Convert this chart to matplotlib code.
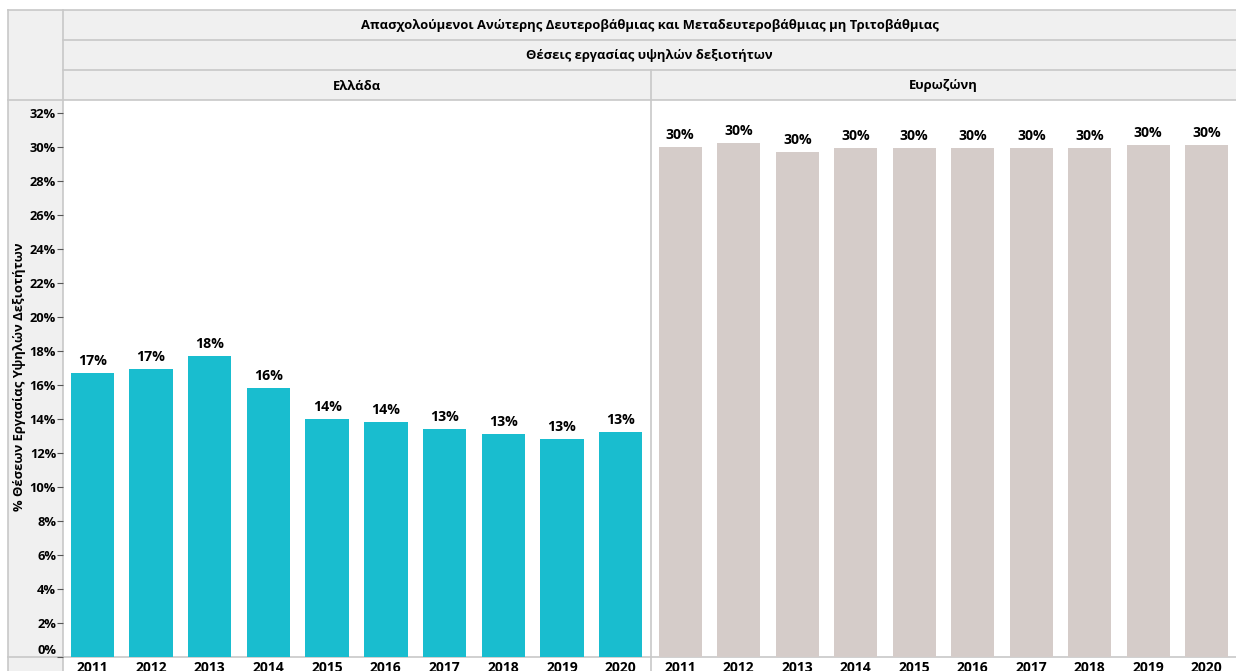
import matplotlib
matplotlib.use('Agg')
import matplotlib.pyplot as plt
from matplotlib.patches import Rectangle
from matplotlib.lines import Line2D

plt.rcParams['font.family'] = ['Open Sans', 'DejaVu Sans']

# --- δεδομένα ---
years = [2011, 2012, 2013, 2014, 2015, 2016, 2017, 2018, 2019, 2020]
greece = [16.7, 16.9, 17.7, 15.8, 14.0, 13.8, 13.4, 13.1, 12.8, 13.2]
eurozone = [30.0, 30.2, 29.7, 29.9, 29.9, 29.9, 29.9, 29.9, 30.1, 30.1]
yticks = list(range(0, 33, 2))

title1 = 'Απασχολούμενοι Ανώτερης Δευτεροβάθμιας και Μεταδευτεροβάθμιας μη Τριτοβάθμιας'
title2 = 'Θέσεις εργασίας υψηλών δεξιοτήτων'
panels = ['Ελλάδα', 'Ευρωζώνη']
ylabel = '% Θέσεων Εργασίας Υψηλών Δεξιοτήτων'

W, H = 1236, 671
HDR_BG = '#f0f0f0'
LINE = '#c8c8c8'
FS_HDR = 9.4
FS_TICK = 9.3
FS_VAL = 10.2
FS_YEAR = 10.0

fig = plt.figure(figsize=(W / 100, H / 100), dpi=100)

# φόντο σε pixel συντεταγμένες (κεφαλίδες, γραμμές πλαισίου)
bg = fig.add_axes([0, 0, 1, 1], zorder=0)
bg.set_xlim(0, W)
bg.set_ylim(H, 0)
bg.axis('off')

bg.add_patch(Rectangle((63, 10), W - 63, 90, color=HDR_BG, lw=0))
bg.add_patch(Rectangle((8, 10), 55, H - 10, color=HDR_BG, lw=0))
for y in [10, 40, 70, 100]:
    x0 = 8 if y in (10, 100) else 63
    bg.add_line(Line2D([x0, W], [y, y], color=LINE, lw=1.2))
bg.add_line(Line2D([8, W], [657, 657], color=LINE, lw=1.2))
bg.add_line(Line2D([8, 8], [10, H], color=LINE, lw=1.2))
bg.add_line(Line2D([63, 63], [10, H], color=LINE, lw=1.2))
bg.add_line(Line2D([650.5, 650.5], [70, H], color=LINE, lw=1.2))

bg.text((63 + W) / 2, 25, title1, ha='center', va='center', fontsize=FS_HDR, fontweight='bold')
bg.text((63 + W) / 2, 55, title2, ha='center', va='center', fontsize=FS_HDR, fontweight='bold')
bg.text((63 + 650) / 2, 86, panels[0], ha='center', va='center', fontsize=FS_HDR, fontweight='bold')
bg.text((651 + W) / 2, 86, panels[1], ha='center', va='center', fontsize=FS_HDR, fontweight='bold')
bg.text(20, 377, ylabel, ha='center', va='center', rotation=90, fontsize=FS_HDR, fontweight='bold')

# πάνελ με μπάρες
bottom = (H - 656.7) / H
height = (656.7 - 101) / H
specs = [(63, 650, greece, '#19bdcf'), (651, W, eurozone, '#d5ccc9')]
x = list(range(len(years)))
for i, (x0, x1, vals, col) in enumerate(specs):
    ax = fig.add_axes([x0 / W, bottom, (x1 - x0) / W, height], zorder=1)
    ax.patch.set_alpha(0)
    bars = ax.bar(x, vals, width=0.74, color=col, zorder=2)
    for b, v in zip(bars, vals):
        ax.text(b.get_x() + b.get_width() / 2, v + 0.3, f'{round(v)}%',
                ha='center', va='bottom', fontsize=FS_VAL, fontweight='bold')
    ax.set_xlim(-0.5, len(years) - 0.5)
    ax.set_ylim(0, 32.69)
    ax.set_xticks(x)
    ax.set_xticklabels([str(y) for y in years], fontsize=FS_YEAR, fontweight='bold')
    ax.tick_params(axis='x', length=0, pad=3)
    for s in ax.spines.values():
        s.set_visible(False)
    if i == 0:
        ax.set_yticks(yticks)
        ax.set_yticklabels([f'{t}%' for t in yticks], fontsize=FS_TICK, fontweight='bold')
        ax.tick_params(axis='y', length=4, color='#555555', pad=1)
        ax.get_yticklabels()[0].set_va('bottom')
    else:
        ax.set_yticks([])

fig.savefig('out.png', dpi=100)
